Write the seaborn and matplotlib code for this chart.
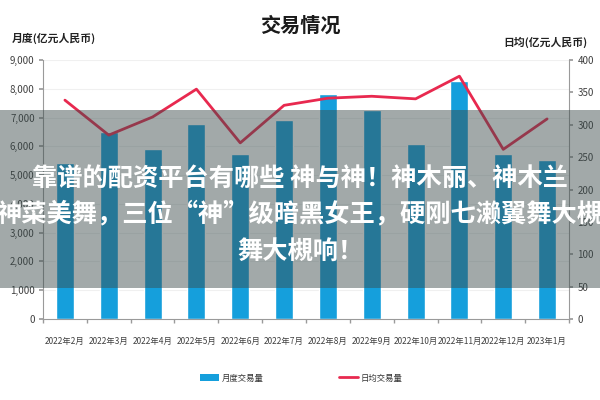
import numpy as np
import pandas as pd
import matplotlib
matplotlib.use("Agg")
import matplotlib.pyplot as plt
import seaborn as sns
from matplotlib.patches import Rectangle, Patch
from matplotlib.lines import Line2D
from matplotlib.ticker import FuncFormatter, MultipleLocator

# ---- data ----
months = ["2022年2月", "2022年3月", "2022年4月", "2022年5月", "2022年6月", "2022年7月",
          "2022年8月", "2022年9月", "2022年10月", "2022年11月", "2022年12月", "2023年1月"]
monthly_volume = [5420, 6490, 5900, 6770, 5730, 6910, 7810, 7250, 6090, 8260, 5750, 5530]
daily_avg = [338, 284, 312, 355, 272, 330, 341, 344, 340, 375, 262, 309]

title = "交易情况"
left_label = "月度(亿元人民币)"
right_label = "日均(亿元人民币)"
bar_name = "月度交易量"
line_name = "日均交易量"
overlay_lines = ["靠谱的配资平台有哪些 神与神！神木丽、神木兰",
                 "神菜美舞，三位“神”级暗黑女王，硬刚七濑翼舞大槻",
                 "舞大槻响！"]

sns.set_theme(style="white")
plt.rcParams['font.family'] = ['Noto Sans CJK SC', 'DejaVu Sans']

df = pd.DataFrame({"month": months, "vol": monthly_volume, "avg": daily_avg})

bar_color = "#159fdc"
line_color = "#e8294f"
spine_color = "#9a9a9a"
tick_color = "#404040"

fig = plt.figure(figsize=(6, 4), dpi=100)
ax = fig.add_axes([43/600, 1-319/400, (569-43)/600, (319-60)/400])

sns.barplot(data=df, x="month", y="vol", color=bar_color, width=0.41,
            saturation=1, ax=ax, zorder=2)
ax.set_xlim(-0.5, 11.5)
ax.set_ylim(0, 9000)
ax.yaxis.set_major_locator(MultipleLocator(1000))
ax.yaxis.set_major_formatter(FuncFormatter(lambda v, p: f"{int(v):,}"))
ax.set_xlabel("")
ax.set_ylabel("")
for y in range(1000, 9001, 1000):
    ax.axhline(y, color="#f0f0f0", lw=0.8, zorder=0)

ax2 = ax.twinx()
sns.lineplot(data=df, x="month", y="avg", color=line_color, lw=2, sort=False,
             ax=ax2, zorder=3)
ax2.set_ylim(0, 400)
ax2.set_xlim(-0.5, 11.5)
ax2.yaxis.set_major_locator(MultipleLocator(50))
ax2.set_xlabel("")
ax2.set_ylabel("")

for a in (ax, ax2):
    a.spines["top"].set_visible(False)
    for s in ("left", "right", "bottom"):
        a.spines[s].set_color(spine_color)
        a.spines[s].set_linewidth(0.8)
ax.spines["right"].set_visible(False)
ax2.spines["left"].set_visible(False)
ax2.spines["bottom"].set_visible(False)

ax.tick_params(axis="y", left=True, length=3, color=spine_color, labelsize=7,
               labelcolor=tick_color, pad=3)
ax2.tick_params(axis="y", right=True, length=3, color=spine_color, labelsize=7,
                labelcolor=tick_color, pad=3)
ax.set_xticks(range(12))
ax.set_xticklabels(months)
ax.tick_params(axis="x", bottom=False, labelsize=6.0, labelcolor=tick_color, pad=7)
ax.set_xticks(np.arange(-0.5, 12, 1), minor=True)
ax.tick_params(axis="x", which="minor", bottom=True, length=3, color=spine_color)

fig.text(0.5, 1-25/400, title, ha="center", va="center", fontsize=14.5,
         fontweight="bold", color="#1a1a1a")
fig.text(12/600, 1-38/400, left_label, ha="left", va="center", fontsize=7.8,
         fontweight="bold", color="#222222")
fig.text(587/600, 1-42/400, right_label, ha="right", va="center", fontsize=7.8,
         fontweight="bold", color="#222222")

handles = [Patch(facecolor=bar_color, edgecolor="none"),
           Line2D([0], [0], color=line_color, lw=2)]
fig.legend(handles, [bar_name, line_name], loc="center",
           bbox_to_anchor=(301/600, 1-378/400), ncol=2, frameon=False,
           fontsize=6, handlelength=2.3, handleheight=0.8, handletextpad=0.3,
           columnspacing=9, labelcolor="#333333")

# overlay banner
fig.add_artist(Rectangle((0, 1-288/400), 1, (288-110)/400, transform=fig.transFigure,
                         facecolor="#3a4a4a", alpha=0.47, edgecolor="none", zorder=10))
for yy, txt in zip([178, 214, 252], overlay_lines):
    fig.text(0.5, 1-yy/400, txt, ha="center", va="center", fontsize=18.2,
             fontweight="bold", color="white", zorder=11)

fig.savefig("out.png", dpi=100)
